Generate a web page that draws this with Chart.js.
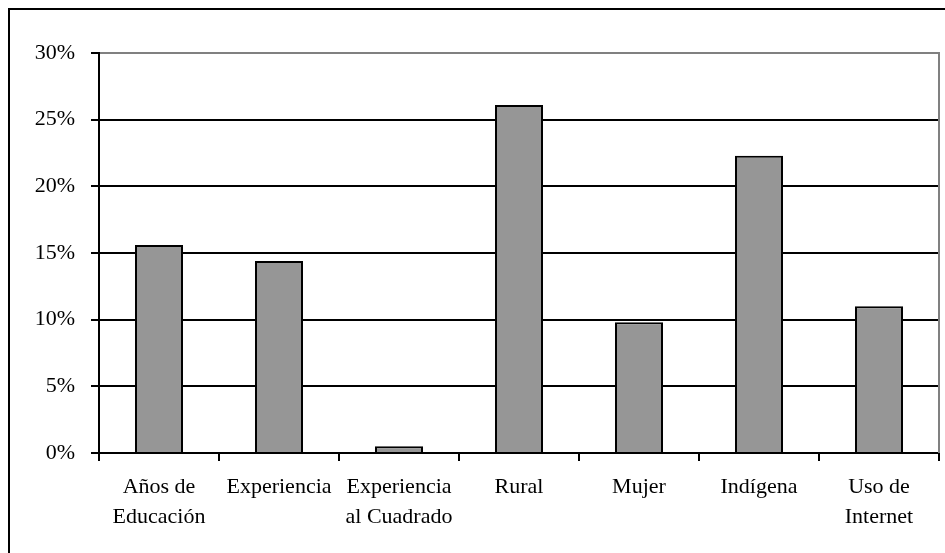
<!DOCTYPE html>
<html>
<head>
<meta charset="utf-8">
<script src="https://cdn.jsdelivr.net/npm/chart.js@4"></script>
<style>
    html, body { margin: 0; padding: 0; background: #fff; }
    #wrap { position: relative; width: 945px; height: 553px; overflow: hidden; }
    #frame { position: absolute; left: 8px; top: 8px; width: 960px; height: 560px;
             border-left: 2px solid #000; border-top: 2px solid #000; }
    canvas { position: absolute; left: 0; top: 0; }
</style>
</head>
<body>
<div id="wrap">
    <div id="frame"></div>
    <canvas id="chart" width="945" height="553"></canvas>
</div>
<script>
// Chart data
const categories = [
    ['Años de', 'Educación'],
    'Experiencia',
    ['Experiencia', 'al Cuadrado'],
    'Rural',
    'Mujer',
    'Indígena',
    ['Uso de', 'Internet']
];
const shares = [15.6, 14.4, 0.5, 26.1, 9.8, 22.3, 11.0];
const yTicks = [0, 5, 10, 15, 20, 25, 30];

// right edge of the plot area is a gray line
const plotFrame = {
    id: 'plotFrame',
    afterDraw(chart) {
        const { ctx, chartArea } = chart;
        ctx.save();
        ctx.strokeStyle = '#808080';
        ctx.lineWidth = 2;
        ctx.beginPath();
        ctx.moveTo(chartArea.right, chartArea.top - 1);
        ctx.lineTo(chartArea.right, chartArea.bottom);
        ctx.stroke();
        ctx.restore();
    }
};

document.addEventListener('DOMContentLoaded', () => {
    const ctx = document.getElementById('chart').getContext('2d');
    new Chart(ctx, {
        type: 'bar',
        data: {
            labels: categories,
            datasets: [{
                data: shares,
                backgroundColor: '#969696',
                borderColor: '#000',
                borderWidth: 2,
                barPercentage: 0.4,
                categoryPercentage: 1
            }]
        },
        options: {
            responsive: false,
            animation: false,
            layout: { padding: { left: 0, top: 53, right: 6, bottom: 0 } },
            plugins: {
                legend: { display: false },
                tooltip: { enabled: false }
            },
            scales: {
                y: {
                    min: 0,
                    max: 30,
                    afterFit: scale => { scale.width = 99; },
                    afterBuildTicks: scale => { scale.ticks = yTicks.map(v => ({ value: v })); },
                    ticks: {
                        stepSize: 5,
                        padding: 16,
                        color: '#000',
                        font: { family: 'Liberation Serif', size: 22 },
                        callback: v => v + '%'
                    },
                    grid: {
                        color: c => (c.tick && c.tick.value === 30 ? '#808080' : '#000'),
                        lineWidth: 2,
                        tickLength: 8,
                        tickColor: '#000'
                    },
                    border: { color: '#000', width: 2 }
                },
                x: {
                    afterFit: scale => { scale.height = 100; },
                    ticks: {
                        padding: 11,
                        color: '#000',
                        maxRotation: 0,
                        autoSkip: false,
                        font: { family: 'Liberation Serif', size: 22, lineHeight: 1.36 }
                    },
                    grid: {
                        offset: true,
                        drawOnChartArea: false,
                        tickLength: 8,
                        lineWidth: 2,
                        color: '#000'
                    },
                    border: { color: '#000', width: 2 }
                }
            }
        },
        plugins: [plotFrame]
    });
});
</script>
</body>
</html>
